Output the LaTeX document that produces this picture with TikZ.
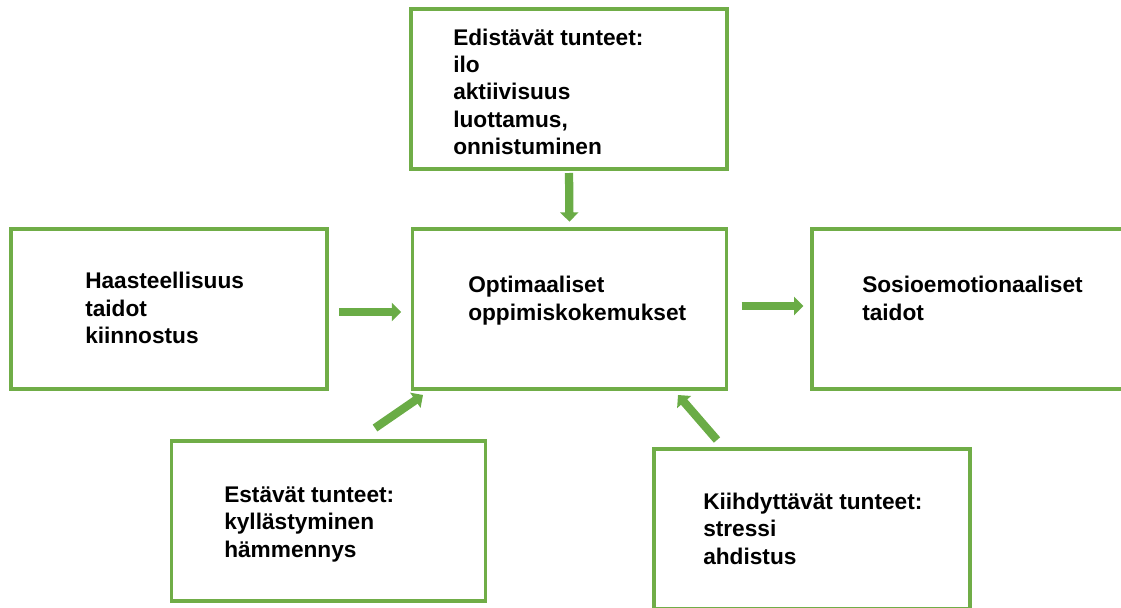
\documentclass[tikz,border=0pt]{standalone}
\usepackage{fontspec}
\setmainfont{Liberation Sans}
\usetikzlibrary{arrows.meta,calc}
\definecolor{boxgreen}{HTML}{70AD47}
\definecolor{arrowgreen}{HTML}{6AAC46}
\tikzset{
  panel/.style={draw=boxgreen, line width=2.3pt, fill=white, inner sep=0pt, outer sep=0pt,
                minimum width=237pt, minimum height=120pt},
  % anchored on the baseline of the last line
  panelText/.style={anchor=base west, align=left, inner sep=0pt,
                    font=\fontsize{17}{20.5}\selectfont\bfseries},
  blockarrow/.style={draw=arrowgreen, line width=6.2pt,
                     -{Triangle[length=7pt,width=13.5pt]}},
}
\begin{document}
\begin{tikzpicture}[x=0.75pt, y=-0.75pt]
  \useasboundingbox (0,0) rectangle (1121,607);
  \clip (0,0) rectangle (1121,607);

  % boxes
  \node[panel] (top)    at (569,89)    {};
  \node[panel] (left)   at (169,309)   {};
  \node[panel, minimum width=236pt] (center) at (569.5,309) {};
  \node[panel] (right)  at (970,309)   {};
  \node[panel, minimum width=236pt] (bl) at (328.5,521) {};
  \node[panel] (br)     at (812,529)   {};

  % box texts
  \node[panelText] (topT) at (453,154.5)
    {Edistävät tunteet:\\ilo\\aktiivisuus\\luottamus,\\onnistuminen};
  \node[panelText] (leftT) at (85,343.5)
    {Haasteellisuus\\taidot\\kiinnostus};
  \node[panelText] (centerT) at (468,320)
    {Optimaaliset\\oppimiskokemukset};
  \node[panelText] (rightT) at (862,320)
    {Sosioemotionaaliset\\taidot};
  \node[panelText] (blT) at (224,557)
    {Estävät tunteet:\\kyllästyminen\\hämmennys};
  \node[panelText] (brT) at (703,564)
    {Kiihdyttävät tunteet:\\stressi\\ahdistus};

  % connectors
  \draw[blockarrow, shorten <=9pt, shorten >=8.25pt]
    ($(left.east)+(0,3)$) -- ($(center.west)+(0,3)$);
  \draw[blockarrow, shorten <=3pt, shorten >=5.5pt]
    (top.south) -- (center.north);
  \draw[blockarrow, shorten <=11pt, shorten >=6.5pt]
    ($(center.east)+(0,-3)$) -- ($(right.west)+(0,-3)$);
  \coordinate (blTail) at ($(bl.north)+(46.5,-13)$);
  \coordinate (blTip)  at ($(center.south)+(-146.5,6)$);
  \draw[blockarrow] (blTail) -- (blTip);
  \coordinate (brTail) at ($(br.north)+(-95,-9)$);
  \coordinate (brTip)  at ($(center.south)+(108.5,6)$);
  \draw[blockarrow] (brTail) -- (brTip);
\end{tikzpicture}
\end{document}
